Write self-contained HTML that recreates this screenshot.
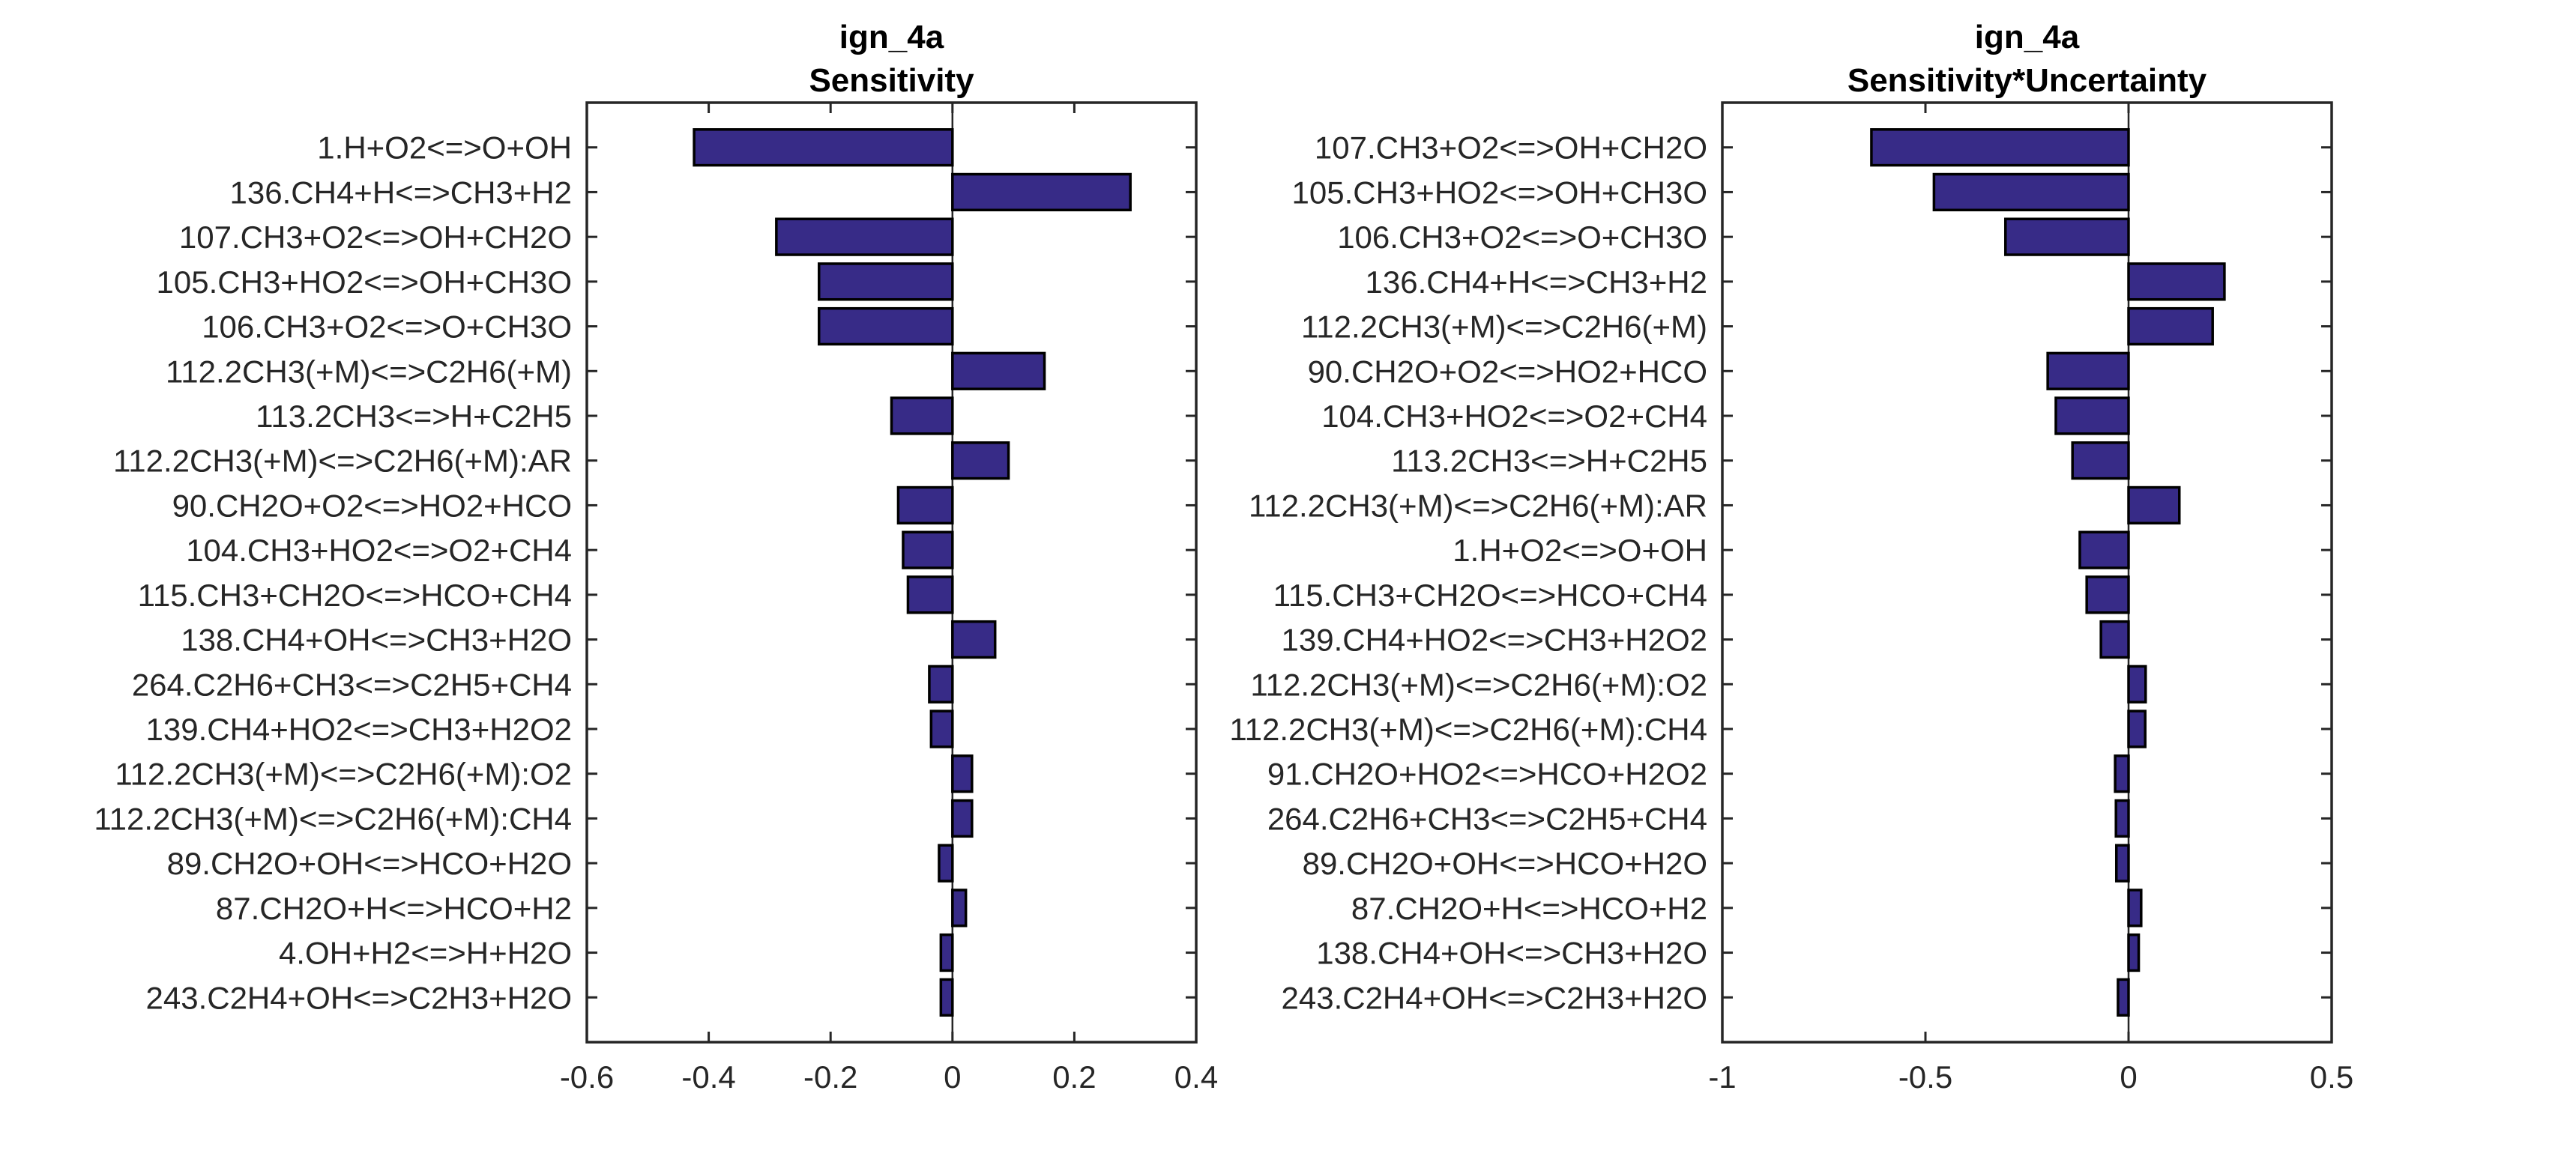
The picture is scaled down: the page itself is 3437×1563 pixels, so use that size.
<!DOCTYPE html>
<html><head><meta charset="utf-8"><style>html,body{margin:0;padding:0;background:#fff}svg{display:block}</style></head>
<body>
<svg id="s" width="3437" height="1563" xmlns="http://www.w3.org/2000/svg" font-family="Liberation Sans, Arial, sans-serif">
<rect width="3437" height="1563" fill="#fff"/>
<g id="g"></g>
</svg>
<script>
(function(){
const NS="http://www.w3.org/2000/svg";const g=document.getElementById('g');
function el(t,a,txt){const e=document.createElementNS(NS,t);for(const k in a)e.setAttribute(k,a[k]);if(txt!==undefined)e.textContent=txt;g.appendChild(e);return e;}
const T=137,B=1391,row=(B-T)/21;
function plot(L,R,xmin,xmax,ticks,tlabels,labels,vals,title){
  const sx=v=>L+(v-xmin)/(xmax-xmin)*(R-L);const z=sx(0);
  el('text',{x:(L+R)/2,y:64,'text-anchor':'middle','font-size':44,'font-weight':'bold',fill:'#000'},'ign_4a');
  el('text',{x:(L+R)/2,y:122,'text-anchor':'middle','font-size':44,'font-weight':'bold',fill:'#000'},title);
  el('line',{x1:z,y1:T,x2:z,y2:B,stroke:'#262626','stroke-width':2.5});
  for(let i=0;i<vals.length;i++){
    const y=T+(i+1)*row;const x0=Math.min(z,sx(vals[i])),x1=Math.max(z,sx(vals[i]));
    el('rect',{x:x0,y:y-row*0.4,width:x1-x0,height:row*0.8,fill:'#372b87',stroke:'#000','stroke-width':3.5});
    el('line',{x1:L,y1:y,x2:L+14,y2:y,stroke:'#262626','stroke-width':3});
    el('line',{x1:R,y1:y,x2:R-14,y2:y,stroke:'#262626','stroke-width':3});
    el('text',{x:L-20,y:y+15,'text-anchor':'end','font-size':42,fill:'#262626'},labels[i]);
  }
  ticks.forEach((t,i)=>{const x=sx(t);
    el('line',{x1:x,y1:T,x2:x,y2:T+14,stroke:'#262626','stroke-width':3});
    el('line',{x1:x,y1:B,x2:x,y2:B-14,stroke:'#262626','stroke-width':3});
    el('text',{x:x,y:1452,'text-anchor':'middle','font-size':42,fill:'#262626'},tlabels[i]);});
  el('rect',{x:L,y:T,width:R-L,height:B-T,fill:'none',stroke:'#262626','stroke-width':3.5});
}
plot(783,1596,-0.6,0.4,[-0.6,-0.4,-0.2,0,0.2,0.4],['-0.6','-0.4','-0.2','0','0.2','0.4'],
['1.H+O2<=>O+OH','136.CH4+H<=>CH3+H2','107.CH3+O2<=>OH+CH2O','105.CH3+HO2<=>OH+CH3O','106.CH3+O2<=>O+CH3O','112.2CH3(+M)<=>C2H6(+M)','113.2CH3<=>H+C2H5','112.2CH3(+M)<=>C2H6(+M):AR','90.CH2O+O2<=>HO2+HCO','104.CH3+HO2<=>O2+CH4','115.CH3+CH2O<=>HCO+CH4','138.CH4+OH<=>CH3+H2O','264.C2H6+CH3<=>C2H5+CH4','139.CH4+HO2<=>CH3+H2O2','112.2CH3(+M)<=>C2H6(+M):O2','112.2CH3(+M)<=>C2H6(+M):CH4','89.CH2O+OH<=>HCO+H2O','87.CH2O+H<=>HCO+H2','4.OH+H2<=>H+H2O','243.C2H4+OH<=>C2H3+H2O'],
[-0.424,0.292,-0.289,-0.219,-0.219,0.151,-0.1,0.092,-0.089,-0.081,-0.073,0.07,-0.038,-0.035,0.032,0.032,-0.022,0.022,-0.019,-0.019],'Sensitivity');
plot(2298,3111,-1,0.5,[-1,-0.5,0,0.5],['-1','-0.5','0','0.5'],
['107.CH3+O2<=>OH+CH2O','105.CH3+HO2<=>OH+CH3O','106.CH3+O2<=>O+CH3O','136.CH4+H<=>CH3+H2','112.2CH3(+M)<=>C2H6(+M)','90.CH2O+O2<=>HO2+HCO','104.CH3+HO2<=>O2+CH4','113.2CH3<=>H+C2H5','112.2CH3(+M)<=>C2H6(+M):AR','1.H+O2<=>O+OH','115.CH3+CH2O<=>HCO+CH4','139.CH4+HO2<=>CH3+H2O2','112.2CH3(+M)<=>C2H6(+M):O2','112.2CH3(+M)<=>C2H6(+M):CH4','91.CH2O+HO2<=>HCO+H2O2','264.C2H6+CH3<=>C2H5+CH4','89.CH2O+OH<=>HCO+H2O','87.CH2O+H<=>HCO+H2','138.CH4+OH<=>CH3+H2O','243.C2H4+OH<=>C2H3+H2O'],
[-0.633,-0.479,-0.303,0.236,0.207,-0.199,-0.179,-0.138,0.125,-0.12,-0.103,-0.068,0.042,0.041,-0.033,-0.031,-0.03,0.031,0.025,-0.026],'Sensitivity*Uncertainty');
})();
</script>
</body></html>
